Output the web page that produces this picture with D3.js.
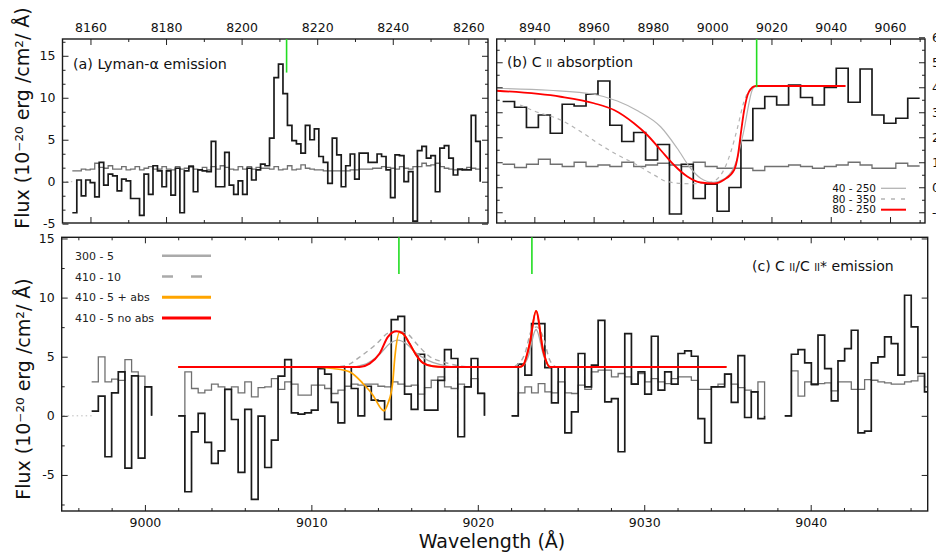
<!DOCTYPE html>
<html>
<head>
<meta charset="utf-8">
<script src="https://cdn.jsdelivr.net/npm/d3@7"></script>
<style>
body { margin: 0; background: #fff; }
svg { font-family: "DejaVu Sans", Verdana, sans-serif; }
</style>
</head>
<body>
<svg width="936" height="552"></svg>
<script>
// ---- data ----
// panel (a) Lyman-alpha: flux per bin, first bin start and bin width (A)
var lyaStart = 8155.2, lyaStep = 1.186;
var lyaFlux = [-3.7, 0.2, -1.7, 0.2, -0.1, -1.8, 2.3, -0.4, 0.9, 0.7,
  -1.1, 0.3, 0.1, -2.0, -2.0, -4.0, 0.9, -1.5, 1.9, 1.3,
  -0.6, 1.3, -1.6, 1.6, -3.7, 1.3, 1.8, -1.2, 1.4, 1.3,
  1.2, 4.8, -0.6, -0.6, 3.5, -0.4, -1.5, 0.1, -1.5, 1.6,
  0.2, 1.4, 2.1, 1.9, 5.2, 12.4, 14.0, 10.5, 6.7, 4.9,
  4.5, 3.4, 6.7, 5.0, 6.3, 3.0, 2.3, -0.2, 5.2, 3.2,
  -0.6, 1.9, 3.3, 0.3, 3.4, 3.4, 2.3, 2.3, 3.3, 3.0,
  1.4, -1.9, 3.2, 3.1, 0.0, 1.2, -4.7, 3.7, 4.2, 2.8,
  3.1, -1.2, 4.0, 4.3, 2.8, 0.8, 1.5, 1.4, 1.4, 7.9, 4.8];
var lyaErr = [1.3, 1.3, 1.5, 1.4, 1.5, 2.2, 1.7, 1.6, 1.9, 1.5,
  1.5, 1.8, 1.4, 1.5, 1.8, 1.4, 1.6, 1.8, 1.5, 1.5,
  1.8, 1.5, 1.4, 1.8, 1.5, 1.6, 1.9, 1.5, 1.4, 1.7,
  1.4, 1.8, 1.5, 1.9, 1.7, 1.5, 1.4, 1.8, 1.5, 1.8,
  1.5, 1.7, 1.6, 1.6, 1.5, 1.8, 1.4, 1.5, 1.9, 1.4,
  1.5, 2.0, 1.6, 1.5, 1.4, 1.4, 1.3, 1.3, 1.3, 1.3,
  1.3, 1.3, 1.4, 1.4, 1.5, 1.5, 1.5, 1.6, 1.6, 1.8,
  1.7, 1.6, 1.5, 1.8, 1.6, 1.5, 1.8, 1.8, 2.2, 1.9,
  2.0, 2.2, 1.8, 1.6, 1.5, 1.4, 1.4, 1.5, 1.7, 1.6, 1.5];
var lyaMarker = [8211.9, 13];

// panel (b) C II absorption
var absStart = 8929.3, absStep = 4.02;
var absFlux = [3.43, 3.2, 2.39, 2.89, 2.16, 3.32, 3.25, 3.72, 4.25, 2.48,
  1.83, 2.19, 1.09, 1.71, -1.07, 0.92, -0.45, 0.12, -0.96, -0.01,
  1.87, 3.15, 3.63, 3.29, 4.09, 3.59, 3.29, 3.99, 4.76, 3.4,
  4.73, 2.89, 2.56, 2.76, 3.56];
var absErr = [0.92, 0.79, 0.92, 1.12, 0.92, 0.83, 1.0, 0.83, 0.89, 0.83,
  1.0, 0.83, 0.89, 0.96, 0.89, 0.83, 1.0, 0.83, 0.76, 0.76,
  0.76, 0.67, 0.83, 0.83, 0.89, 0.83, 0.76, 0.83, 0.89, 1.0,
  0.89, 0.76, 0.76, 0.96, 0.85];
var fit40_250 = [[8927.3, 3.96], [8945, 3.88], [8960.1, 3.72], [8968, 3.45], [8975, 3.05],
  [8982.6, 2.42], [8988.2, 1.56], [8992.7, 0.76], [8996.1, 0.36], [9000.2, 0.2],
  [9004.3, 0.35], [9008.3, 1.09], [9010.5, 2.16], [9013.8, 3.96], [9015.1, 4.05]];
var fit80_350 = [[8935.2, 3.29], [8939.9, 3.05], [8948.9, 2.69], [8955.6, 2.23], [8962.4, 1.69],
  [8969.1, 1.23], [8973.6, 0.96], [8980.4, 0.49], [8984.9, 0.22], [8992.5, 0.14],
  [8999.3, 0.2], [9002.9, 0.49], [9006.3, 1.42], [9008.5, 2.36], [9010.7, 3.42], [9013.0, 3.96]];
var fit80_250 = [[8927.3, 3.86], [8948.9, 3.62], [8960.1, 3.36], [8966.9, 3.09], [8973.6, 2.56],
  [8978.1, 2.09], [8982.6, 1.49], [8987.1, 0.89], [8991.6, 0.43], [8996.1, 0.19],
  [9000.6, 0.15], [9004.0, 0.3], [9007.4, 0.69], [9008.7, 1.29], [9009.6, 2.09],
  [9010.7, 3.02], [9012.4, 3.82], [9014.7, 4.05], [9045.0, 4.05]];
var absMarker = [9015.0, 4.0];

// panel (c) C II / C II* emission, four separate chunks
var emStarts = [8996.8, 9002.0, 9022.03, 9038.44];
var emStep = 0.4;
var emFlux = [
  [0.4, 1.66, -3.46, 1.94, 3.72, -4.42, 3.38, -3.58, 2.45],
  [0, -6.42, -1.35, 0.2, -2.25, -4.03, -2.96, 2.23, -0.31, -4.79,
   0.54, -7.07, -0.03, -4.37, -2.06, 3.35, 4.76, 0.25, 0.14, 0.25,
   0.48, 4.0, 3.52, 1.13, -0.59, 4.11, 2.31, 0, 2.5, 1.32,
   1.27, -0.3, 8.14, 8.42, 1.83, 0.54, 5.21, 0.48, 0.48, 3.0,
   5.6, 4.85, -1.77, 2.45, 4.85, 1.89],
  [0, 4.37, 3.44, 7.8, 7.8, 4.08, 1.1, 4.14, -1.44, 0.34,
   5.27, 2.45, 4.28, 8.08, 1.18, 1.46, -3.04, 6.96, 2.68, 3.72,
   1.83, 6.73, 2.17, 3.72, 2.68, 5.27, 5.49, 5.04, -0.23, -2.28,
   2.45, 2.45, 3.52, 1.13, 5.1, -0.14, 2.03, -0.23],
  [0, 5.21, 5.6, 4.48, 2.68, 6.82, 4.0, 1.27, 4.65, 5.69,
   7.24, -1.44, -1.3, 4.48, 4.99, 6.68, 6.11, 3.44, 10.2, 7.52, 3.58, 2.03]
];
var emErr = [
  [2.87, 4.99, 2.87, 3.1, 3.0, 4.76, 3.72, 3.35, 2.45],
  [0, 3.72, 2.31, 1.94, 2.17, 2.68, 2.45, 2.23, 2.45, 1.94,
   2.87, 1.61, 2.39, 2.45, 3.15, 2.23, 2.87, 2.68, 1.75, 1.75,
   2.59, 2.59, 2.31, 1.89, 2.17, 2.5, 2.68, 2.59, 2.68, 2.68,
   2.5, 2.45, 2.87, 2.68, 2.5, 2.59, 1.83, 2.39, 3.01, 3.3,
   2.45, 2.31, 2.68, 2.45, 3.15, 1.94],
  [0, 1.94, 2.45, 1.94, 2.73, 2.03, 1.94, 2.87, 1.94, 1.89,
   2.59, 2.23, 3.72, 3.86, 3.86, 3.3, 3.58, 3.3, 2.73, 3.58,
   2.87, 3.15, 2.87, 2.73, 3.15, 3.3, 3.3, 3.0, 2.23, 2.23,
   2.45, 2.68, 3.52, 2.68, 2.39, 2.17, 2.03, 2.87],
  [0, 3.8, 1.66, 2.87, 2.59, 2.73, 2.79, 2.11, 2.87, 2.87,
   2.23, 2.23, 3.07, 3.01, 2.87, 2.79, 2.68, 2.68, 2.87, 2.96, 3.35, 2.45]
];
var mod300_5 = [[9002.0, 4.14], [9012.3, 4.14], [9013.3, 4.4], [9014.1, 5.2], [9014.7, 6.1],
  [9015.2, 6.4], [9015.7, 6.1], [9016.3, 5.3], [9017.0, 4.7], [9017.7, 4.35], [9018.6, 4.14],
  [9022.6, 4.14], [9023.0, 4.9], [9023.5, 7.3], [9024.0, 4.9], [9024.4, 4.14], [9034.94, 4.14]];
var mod410_10 = [[9002.0, 4.14], [9011.3, 4.14], [9012.12, 4.28], [9012.92, 4.99], [9013.92, 6.1],
  [9014.62, 7.0], [9015.2, 7.15], [9015.8, 6.9], [9016.32, 6.1], [9017.12, 5.0], [9017.92, 4.56],
  [9018.8, 4.25], [9019.6, 4.14], [9022.0, 4.14], [9022.33, 4.28], [9022.83, 5.27],
  [9023.23, 7.24], [9023.53, 7.52], [9023.92, 6.68], [9024.33, 4.7], [9024.73, 4.14], [9034.94, 4.14]];
var mod410_5abs = [[9002.0, 4.14], [9010.3, 4.14], [9011.3, 4.0], [9012.3, 3.72], [9013.1, 2.73],
  [9013.7, 1.75], [9014.2, 0.6], [9014.36, 0.42], [9014.6, 1.04], [9014.88, 2.73], [9015.02, 5.0],
  [9015.3, 7.05], [9015.6, 6.8], [9015.9, 6.11], [9016.3, 5.13], [9016.7, 4.48], [9017.3, 4.2],
  [9017.9, 4.14], [9022.5, 4.14], [9022.72, 4.28], [9023.12, 6.11], [9023.5, 8.87],
  [9023.92, 5.55], [9024.33, 4.14], [9034.94, 4.14]];
var mod410_5 = [[9002.0, 4.14], [9012.9, 4.14], [9013.5, 4.42], [9014.1, 5.27], [9014.6, 6.68],
  [9015.12, 7.15], [9015.5, 6.96], [9015.9, 6.11], [9016.3, 5.13], [9016.7, 4.48], [9017.3, 4.2],
  [9017.9, 4.14], [9022.5, 4.14], [9022.72, 4.28], [9023.12, 6.11], [9023.5, 8.87],
  [9023.92, 5.55], [9024.33, 4.14], [9034.94, 4.14]];
var emMarkers = [[9015.26, 12], [9023.25, 12]];

// ticks
var lyaTicks = [8160, 8180, 8200, 8220, 8240, 8260];
var lyaMinor = [8170, 8190, 8210, 8230, 8250];
var lyaYTicks = [-5, 0, 5, 10, 15];
var absTicks = [8940, 8960, 8980, 9000, 9020, 9040, 9060];
var absMinor = [8930, 8950, 8970, 8990, 9010, 9030, 9050, 9070];
var absYTicks = [-1, 0, 1, 2, 3, 4, 5, 6];
var emTicks = [9000, 9010, 9020, 9030, 9040];
var emYTicks = [-5, 0, 5, 10, 15];

var legendB = [{name: "40 - 250", color: "#b4b4b4", width: 1.3, dash: null},
  {name: "80 - 350", color: "#b4b4b4", width: 1.3, dash: "4,6"},
  {name: "80 - 250", color: "#ff0000", width: 2, dash: null}];
var legendC = [{name: "300 - 5", color: "#aaaaaa", width: 2.5, dash: null},
  {name: "410 - 10", color: "#aaaaaa", width: 2.5, dash: "11,18"},
  {name: "410 - 5 + abs", color: "#ffa500", width: 3, dash: null},
  {name: "410 - 5 no abs", color: "#ff0000", width: 3, dash: null}];

// ---- layout ----
var svg = d3.select("svg");
var pA = {left: 62.5, right: 488, top: 39, bottom: 223};
var pB = {left: 496.7, right: 925, top: 39, bottom: 223};
var pC = {left: 61.7, right: 927.7, top: 237.3, bottom: 511};

var xA = d3.scaleLinear().domain([8152.6, 8265.2]).range([pA.left, pA.right]);
var yA = d3.scaleLinear().domain([-4.92, 17]).range([pA.bottom, pA.top]);
var xB = d3.scaleLinear().domain([8927.3, 9071.8]).range([pB.left, pB.right]);
var yB = d3.scaleLinear().domain([-1.43, 5.93]).range([pB.bottom, pB.top]);
var xC = d3.scaleLinear().domain([8995, 9047.03]).range([pC.left, pC.right]);
var yC = d3.scaleLinear().domain([-8.05, 15.1]).range([pC.bottom, pC.top]);

var stepPoints = function(vals, start, step, drop){
    var pts = vals.map(function(v, i){ return [start + i*step, v]; });
    var end = start + vals.length*step;
    pts.push([end, vals[vals.length-1]]);
    if (drop) pts.push([end, 0]);
    return pts;
}

var drawLine = function(g, pts, x, y, color, width, curve, dash){
    g.append("path")
     .datum(pts)
     .attr("fill", "none")
     .attr("stroke", color)
     .attr("stroke-width", width)
     .attr("stroke-dasharray", dash)
     .attr("stroke-linejoin", "miter")
     .attr("d", d3.line()
        .x(function(d){ return x(d[0]); })
        .y(function(d){ return y(d[1]); })
        .curve(curve));
}

var makePanel = function(id, p){
    svg.append("clipPath").attr("id", id)
       .append("rect")
       .attr("x", p.left).attr("y", p.top)
       .attr("width", p.right - p.left).attr("height", p.bottom - p.top);
    return svg.append("g").attr("clip-path", "url(#" + id + ")");
}

var addAxis = function(gen, scale, vals, size, tx, ty, labels){
    var ax = gen(scale).tickValues(vals).tickSizeInner(-size).tickSizeOuter(0).tickPadding(7);
    ax.tickFormat(labels ? function(d){ return String(d); } : "");
    var a = svg.append("g")
       .attr("transform", "translate(" + tx + "," + ty + ")")
       .call(ax);
    a.select(".domain").remove();
    a.selectAll(".tick line").attr("stroke", "#222").attr("stroke-width", 1);
    a.selectAll(".tick text")
     .attr("font-family", "DejaVu Sans")
     .attr("font-size", 12.5)
     .attr("fill", "#111");
}

var frame = function(p){
    svg.append("rect")
       .attr("x", p.left).attr("y", p.top)
       .attr("width", p.right - p.left).attr("height", p.bottom - p.top)
       .attr("fill", "none").attr("stroke", "#1a1a1a").attr("stroke-width", 1.4);
}

var zeroLine = function(g, x, y, x0, x1){
    g.append("line")
     .attr("x1", x(x0)).attr("x2", x(x1))
     .attr("y1", y(0)).attr("y2", y(0))
     .attr("stroke", "#bbbbbb").attr("stroke-width", 1)
     .attr("stroke-dasharray", "1.5,3");
}

var marker = function(m, x, p, y){
    svg.append("line")
       .attr("x1", x(m[0])).attr("x2", x(m[0]))
       .attr("y1", p.top).attr("y2", y(m[1]))
       .attr("stroke", "#22dd22").attr("stroke-width", 1.6);
}

// ---- panel (a) ----
var gA = makePanel("clipA", pA);
zeroLine(gA, xA, yA, lyaStart, pA.right);
drawLine(gA, stepPoints(lyaErr, lyaStart, lyaStep, false), xA, yA, "#707070", 1.3, d3.curveStepAfter);
drawLine(gA, stepPoints(lyaFlux, lyaStart, lyaStep, true), xA, yA, "#1a1a1a", 1.7, d3.curveStepAfter);
addAxis(d3.axisTop, xA, lyaTicks, 6, 0, pA.top, true);
addAxis(d3.axisTop, xA, lyaMinor, 3, 0, pA.top, false);
addAxis(d3.axisBottom, xA, lyaTicks, 6, 0, pA.bottom, false);
addAxis(d3.axisBottom, xA, lyaMinor, 3, 0, pA.bottom, false);
addAxis(d3.axisLeft, yA, lyaYTicks, 6, pA.left, 0, true);
addAxis(d3.axisLeft, yA, [-3.33, -1.67, 1.67, 3.33, 6.67, 8.33, 11.67, 13.33, 16.67], 3, pA.left, 0, false);
addAxis(d3.axisRight, yA, lyaYTicks, 6, pA.right, 0, false);
addAxis(d3.axisRight, yA, [-3.33, -1.67, 1.67, 3.33, 6.67, 8.33, 11.67, 13.33, 16.67], 3, pA.right, 0, false);
frame(pA);
marker(lyaMarker, xA, pA, yA);
svg.append("text").attr("x", 73).attr("y", 69)
   .attr("font-size", 14.3).attr("fill", "#111")
   .text("(a) Lyman-\u03b1 emission");

// ---- panel (b) ----
var gB = makePanel("clipB", pB);
zeroLine(gB, xB, yB, absStart, pB.right);
drawLine(gB, stepPoints(absErr, absStart, absStep, false), xB, yB, "#707070", 1.3, d3.curveStepAfter);
drawLine(gB, stepPoints(absFlux, absStart, absStep, false), xB, yB, "#1a1a1a", 1.7, d3.curveStepAfter);
drawLine(gB, fit40_250, xB, yB, "#b4b4b4", 1.2, d3.curveMonotoneX);
drawLine(gB, fit80_350, xB, yB, "#b4b4b4", 1.2, d3.curveMonotoneX, "4,4");
drawLine(gB, fit80_250, xB, yB, "#ff0000", 1.8, d3.curveMonotoneX);
addAxis(d3.axisTop, xB, absTicks, 6, 0, pB.top, true);
addAxis(d3.axisTop, xB, absMinor, 3, 0, pB.top, false);
addAxis(d3.axisBottom, xB, absTicks, 6, 0, pB.bottom, false);
addAxis(d3.axisBottom, xB, absMinor, 3, 0, pB.bottom, false);
addAxis(d3.axisLeft, yB, absYTicks.slice(0, 7), 6, pB.left, 0, false);
addAxis(d3.axisLeft, yB, [-0.5, 0.5, 1.5, 2.5, 3.5, 4.5, 5.5], 3, pB.left, 0, false);
addAxis(d3.axisRight, yB, absYTicks, 6, pB.right, 0, true);
addAxis(d3.axisRight, yB, [-0.5, 0.5, 1.5, 2.5, 3.5, 4.5, 5.5], 3, pB.right, 0, false);
frame(pB);
marker(absMarker, xB, pB, yB);
var tb = svg.append("text").attr("x", 507).attr("y", 67)
   .attr("font-size", 14.3).attr("fill", "#111");
tb.append("tspan").text("(b) C ");
tb.append("tspan").attr("font-size", 10).text("II");
tb.append("tspan").text(" absorption");

var lgB = svg.append("g").selectAll("g")
   .data(legendB).enter().append("g")
   .attr("transform", function(d, i){ return "translate(0," + (188.3 + i*10.7) + ")"; });
lgB.append("text").attr("x", 876).attr("y", 3.5)
   .attr("text-anchor", "end").attr("font-size", 10.5).attr("fill", "#111")
   .text(function(d){ return d.name; });
lgB.append("line").attr("x1", 881).attr("x2", 906)
   .attr("stroke", function(d){ return d.color; })
   .attr("stroke-width", function(d){ return d.width; })
   .attr("stroke-dasharray", function(d){ return d.dash; });

// ---- panel (c) ----
var gC = makePanel("clipC", pC);
zeroLine(gC, xC, yC, emStarts[0], pC.right);
emErr.forEach(function(seg, i){
    drawLine(gC, stepPoints(seg, emStarts[i], emStep, true), xC, yC, "#707070", 1.3, d3.curveStepAfter);
});
emFlux.forEach(function(seg, i){
    drawLine(gC, stepPoints(seg, emStarts[i], emStep, true), xC, yC, "#1a1a1a", 1.7, d3.curveStepAfter);
});
drawLine(gC, mod300_5, xC, yC, "#aaaaaa", 1.4, d3.curveMonotoneX);
drawLine(gC, mod410_10, xC, yC, "#aaaaaa", 1.4, d3.curveMonotoneX, "5,4");
drawLine(gC, mod410_5abs, xC, yC, "#ffa500", 1.7, d3.curveMonotoneX);
drawLine(gC, mod410_5, xC, yC, "#ff0000", 2, d3.curveMonotoneX);
var emMinor = d3.range(8996, 9047, 2).filter(function(d){ return d % 10 != 0; });
addAxis(d3.axisBottom, xC, emTicks, 6, 0, pC.bottom, true);
addAxis(d3.axisBottom, xC, emMinor, 3, 0, pC.bottom, false);
addAxis(d3.axisTop, xC, emTicks, 6, 0, pC.top, false);
addAxis(d3.axisTop, xC, emMinor, 3, 0, pC.top, false);
addAxis(d3.axisLeft, yC, emYTicks, 6, pC.left, 0, true);
addAxis(d3.axisLeft, yC, [-7.5, -2.5, 2.5, 7.5, 12.5], 3, pC.left, 0, false);
addAxis(d3.axisRight, yC, emYTicks, 6, pC.right, 0, false);
frame(pC);
emMarkers.forEach(function(m){ marker(m, xC, pC, yC); });

var tc = svg.append("text").attr("x", 752).attr("y", 271)
   .attr("font-size", 14).attr("fill", "#111");
tc.append("tspan").text("(c) C ");
tc.append("tspan").attr("font-size", 10).text("II");
tc.append("tspan").text("/C ");
tc.append("tspan").attr("font-size", 10).text("II");
tc.append("tspan").text("* emission");

var lgC = svg.append("g").selectAll("g")
   .data(legendC).enter().append("g")
   .attr("transform", function(d, i){ return "translate(0," + (255.7 + i*20.8) + ")"; });
lgC.append("text").attr("x", 75).attr("y", 4)
   .attr("font-size", 11).attr("fill", "#222")
   .text(function(d){ return d.name; });
lgC.append("line").attr("x1", 162).attr("x2", 211)
   .attr("stroke", function(d){ return d.color; })
   .attr("stroke-width", function(d){ return d.width; })
   .attr("stroke-dasharray", function(d){ return d.dash; });

// ---- axis titles ----
svg.append("text")
   .attr("transform", "translate(29,118) rotate(-90)")
   .attr("text-anchor", "middle").attr("font-size", 19).attr("fill", "#111")
   .text("Flux (10\u207b\u00b2\u2070 erg /cm\u00b2/ \u00c5)");
svg.append("text")
   .attr("transform", "translate(30,389) rotate(-90)")
   .attr("text-anchor", "middle").attr("font-size", 19).attr("fill", "#111")
   .text("Flux (10\u207b\u00b2\u2070 erg /cm\u00b2/ \u00c5)");
svg.append("text")
   .attr("x", 492).attr("y", 548)
   .attr("text-anchor", "middle").attr("font-size", 19).attr("fill", "#111")
   .text("Wavelength (\u00c5)");
</script>
</body>
</html>
